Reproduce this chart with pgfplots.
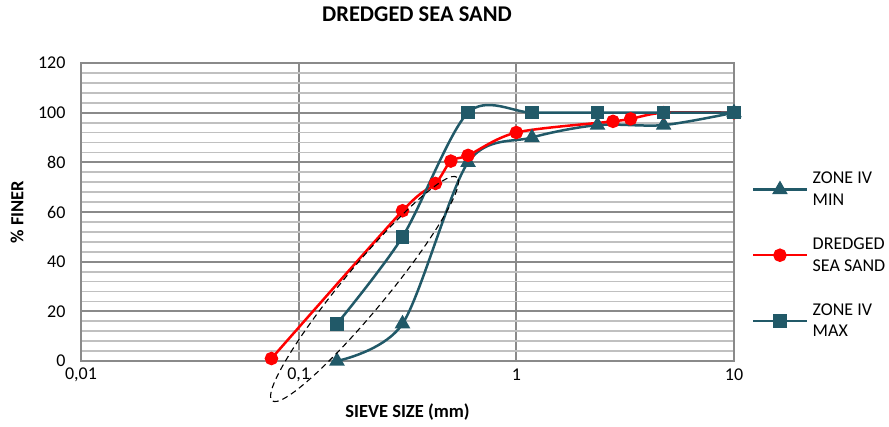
\documentclass[border=0pt]{standalone}
\usepackage{fontspec}
\setmainfont{Carlito}
\usepackage{pgfplots}
\pgfplotsset{compat=1.18}

\definecolor{zone}{HTML}{215968}
\definecolor{sand}{HTML}{FF0000}
\definecolor{majgrid}{HTML}{8A8A8A}
\definecolor{mingrid}{HTML}{C0C0C0}

\begin{document}
\begin{tikzpicture}
\begin{axis}[
  scale only axis, width=653pt, height=298pt,
  xmode=log, log basis x=10, xmin=0.01, xmax=10,
  ymin=0, ymax=120, ytick={0,20,...,120}, minor y tick num=4,
  xtick={0.01,0.1,1,10}, xticklabels={{0,01},{0,1},1,10},
  grid=both,
  major grid style={draw=majgrid, line width=1.8pt},
  minor grid style={draw=mingrid, line width=1.8pt},
  major tick length=0pt, minor tick length=0pt,
  tick style={draw=none},
  axis line style={draw=majgrid, line width=1.8pt},
  tick label style={font=\fontsize{18}{21}\selectfont, text=black},
  /pgf/number format/assume math mode=true,
  yticklabel style={anchor=east, xshift=-12pt},
  xticklabel style={anchor=center, yshift=-14pt},
  xlabel={\textbf{SIEVE SIZE (mm)}},
  ylabel={\textbf{\% FINER}},
  label style={font=\fontsize{18.5}{21}\selectfont},
  xlabel style={at={(axis description cs:0.5,0)}, anchor=center, yshift=-51pt},
  ylabel style={at={(axis description cs:0,0.5)}, anchor=center, yshift=64pt},
  title={\textbf{DREDGED SEA SAND}},
  title style={font=\fontsize{22.5}{26}\selectfont, at={(axis description cs:0.5,1)}, anchor=center, xshift=9.5pt, yshift=43pt},
  legend style={draw=none, fill=none, at={(rel axis cs:1,1)}, anchor=north west,
    xshift=18pt, yshift=-107pt, font=\fontsize{18}{21.5}\selectfont,
    row sep=27pt, column sep=3pt, cells={anchor=west, align=left}, inner sep=0pt},
  legend image code/.code={\draw[mark repeat=2, mark phase=2, #1] plot coordinates {(0pt,0pt) (26.5pt,0pt) (53pt,0pt)};},
]
% grading envelope, lower limit
\addplot[zone, line width=2.5pt, smooth, mark=triangle*, mark size=6.5pt, mark options={solid}]
  coordinates {(0.15,0) (0.3,15) (0.6,80) (1.18,90) (2.36,95) (4.75,95) (10,100)};
\addlegendentry{ZONE IV\\MIN}
% tested sample
\addplot[sand, line width=2.5pt, smooth, mark=*, mark size=5.5pt, mark options={solid}]
  coordinates {(0.075,1) (0.3,60.5) (0.425,71.5) (0.5,80.5) (0.6,82.8) (1,92) (2.78,96.5) (3.35,97.5) (4.75,100) (10,100)};
\addlegendentry{DREDGED\\SEA SAND}
% grading envelope, upper limit
\addplot[zone, line width=2.5pt, smooth, mark=square*, mark size=5.5pt, mark options={solid}]
  coordinates {(0.15,15) (0.3,50) (0.6,100) (1.18,100) (2.36,100) (4.75,100) (10,100)};
\addlegendentry{ZONE IV\\MAX}
\end{axis}
% dashed ellipse marking the fine fraction
\begin{scope}[shift={(283.5pt,72pt)}, rotate=50.4]
  \draw[black, line width=1.1pt, dash pattern=on 6pt off 4pt] (0,0) ellipse (145pt and 22pt);
\end{scope}
\pgfresetboundingbox
\useasboundingbox (-81pt,-65pt) rectangle (808pt,361pt);
\end{tikzpicture}
\end{document}
